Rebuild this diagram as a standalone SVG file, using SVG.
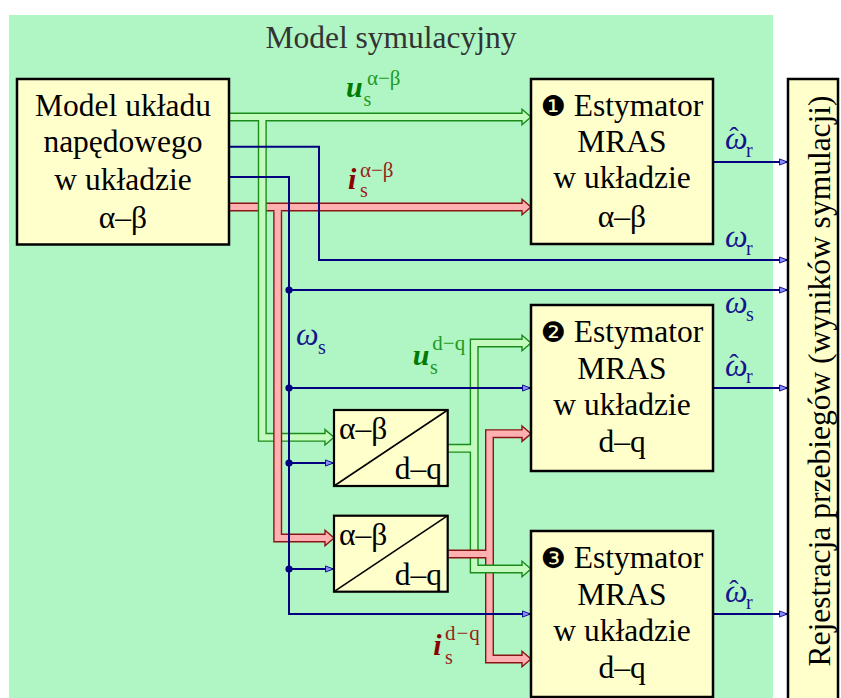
<svg xmlns="http://www.w3.org/2000/svg" width="841" height="698" viewBox="0 0 841 698">
<style>
text{font-family:"Liberation Serif","Times New Roman",serif;}
.big{font-size:31.5px;fill:#000;}
.ctr{text-anchor:middle;}
.num{font-family:"DejaVu Sans",sans-serif;font-size:28px;}
.box{fill:#ffffcc;stroke:#000;stroke-width:2.5;}
.gd{fill:none;stroke:#1a8c1a;stroke-width:9;stroke-linejoin:miter;}
.gl{fill:none;stroke:#c4fcbf;stroke-width:6.2;stroke-linejoin:miter;}
.ga{fill:#c4fcbf;stroke:#1a8c1a;stroke-width:1.4;stroke-linejoin:miter;}
.rd{fill:none;stroke:#8c1414;stroke-width:9;stroke-linejoin:miter;}
.rl{fill:none;stroke:#ffb0b0;stroke-width:6.2;stroke-linejoin:miter;}
.ra{fill:#ffb0b0;stroke:#8c1414;stroke-width:1.4;stroke-linejoin:miter;}
.bla{fill:none;stroke:#000080;stroke-width:2;marker-end:url(#ba);}
.dot{fill:#000080;}
.om{font-style:italic;font-size:32px;fill:#14148c;}
.sub{font-size:20px;fill:#14148c;}
.hat{font-size:28px;fill:#14148c;}
.ub{font-style:italic;font-weight:bold;font-size:30px;fill:#007a00;}
.gs{font-size:20px;fill:#1f9a1f;}
.ib{font-style:italic;font-weight:bold;font-size:30px;fill:#8b0000;}
.rs{font-size:20px;fill:#9b1c1c;}
</style>
<defs>
<marker id="ba" viewBox="0 0 10 8" refX="10" refY="4" markerWidth="9" markerHeight="7.5" markerUnits="userSpaceOnUse" orient="auto">
<path d="M0.6,0.6 L9.4,4 L0.6,7.4 Z" fill="#8c8cff" stroke="#000080" stroke-width="1"/>
</marker>
</defs>
<rect x="0" y="0" width="841" height="698" fill="#fff"/>
<rect id="bg" x="9" y="15" width="764" height="683" fill="#b0f5c4"/>
<text x="391" y="48" class="ctr" style="font-size:31.5px;fill:#333;">Model symulacyjny</text>

<g id="connectors">
<path class="rd" d="M229,207 H523"/>
<polygon class="ra" points="522,199.3 531,207 522,214.7"/>
<path class="rl" d="M229,207 H523.5"/>
<path class="gd" d="M229,117 H523 M262.3,117 V437.3 H326"/>
<polygon class="ga" points="522,109.3 531,117 522,124.7"/>
<polygon class="ga" points="325,429.6 334,437.3 325,445"/>
<path class="gl" d="M229,117 H523.5 M262.3,117 V437.3 H326.5"/>
<path class="rd" d="M277.7,211.5 V538 H326"/>
<polygon class="ra" points="325,530.3 334,538 325,545.7"/>
<path class="rl" d="M277.7,207 V538 H326.5"/>
<path class="rd" d="M523,433.7 H489.5 V659 H523"/>
<polygon class="ra" points="522,426 531,433.7 522,441.4"/>
<polygon class="ra" points="522,651.3 531,659 522,666.7"/>
<path class="rl" d="M523.5,433.7 H489.5 V659 H523.5"/>
<path class="gd" d="M523,343 H474.2 V569 H523 M447.7,448.3 H474.2"/>
<polygon class="ga" points="522,335.3 531,343 522,350.7"/>
<polygon class="ga" points="522,561.3 531,569 522,576.7"/>
<path class="gl" d="M523.5,343 H474.2 V569 H523.5 M447.7,448.3 H474.2"/>
<path class="rd" d="M447.7,554 H486"/>
<path class="rl" d="M447.7,554 H490.5"/>
<path class="bla" d="M229,146.7 H319 V260 H788"/>
<path class="bla" d="M229,177 H289 V614 H531"/>
<path class="bla" d="M289,290 H788"/>
<path class="bla" d="M289,388 H531"/>
<path class="bla" d="M289,463 H334"/>
<path class="bla" d="M289,569 H334"/>
<path class="bla" d="M713,162 H788"/>
<path class="bla" d="M713,388 H788"/>
<path class="bla" d="M713,614 H788"/>
<circle class="dot" cx="289" cy="290" r="3.6"/>
<circle class="dot" cx="289" cy="388" r="3.6"/>
<circle class="dot" cx="289" cy="463" r="3.6"/>
<circle class="dot" cx="289" cy="569" r="3.6"/>
</g>

<g id="labels">
<text x="346" y="97" class="ub">u</text>
<text x="363.5" y="105.5" class="gs">s</text>
<text x="367" y="85" class="gs" style="font-size:21px;">α−β</text>
<text x="348" y="188.5" class="ib">i</text>
<text x="360" y="197" class="rs">s</text>
<text x="360" y="177" class="rs" style="font-size:21px;">α−β</text>
<text x="412.7" y="365" class="ub">u</text>
<text x="430" y="373.5" class="gs">s</text>
<text x="432.3" y="350" class="gs" style="font-size:21px;">d−q</text>
<text x="433.3" y="655" class="ib">i</text>
<text x="445" y="663.5" class="rs">s</text>
<text x="445" y="640" class="rs" style="font-size:21px;letter-spacing:1px;">d−q</text>
<text x="296" y="345" class="om">ω</text>
<text x="318" y="353.5" class="sub">s</text>
<text x="725" y="149" class="om">ω</text>
<text x="734" y="146" class="hat ctr">ˆ</text>
<text x="746" y="157" class="sub">r</text>
<text x="725" y="247" class="om">ω</text>
<text x="746" y="255" class="sub">r</text>
<text x="725" y="313" class="om">ω</text>
<text x="746" y="321" class="sub">s</text>
<text x="725" y="376" class="om">ω</text>
<text x="734" y="373" class="hat ctr">ˆ</text>
<text x="746" y="383" class="sub">r</text>
<text x="725" y="602" class="om">ω</text>
<text x="734" y="599" class="hat ctr">ˆ</text>
<text x="746" y="609" class="sub">r</text>
</g>

<g id="model">
<rect class="box" x="17" y="79" width="212" height="165.5"/>
<text class="big ctr" x="123" y="116">Model układu</text>
<text class="big ctr" x="123" y="152">napędowego</text>
<text class="big ctr" x="123" y="190">w układzie</text>
<text class="big ctr" x="123" y="228">α–β</text>
</g>

<g id="est1">
<rect class="box" x="531" y="79" width="182" height="165"/>
<text class="big ctr" x="622" y="116"><tspan class="num">❶</tspan> Estymator</text>
<text class="big ctr" x="622" y="152">MRAS</text>
<text class="big ctr" x="622" y="188">w układzie</text>
<text class="big ctr" x="622" y="226.5">α–β</text>
</g>

<g id="est2">
<rect class="box" x="531" y="305" width="182" height="166"/>
<text class="big ctr" x="622" y="341.7"><tspan class="num">❷</tspan> Estymator</text>
<text class="big ctr" x="622" y="379">MRAS</text>
<text class="big ctr" x="622" y="415">w układzie</text>
<text class="big ctr" x="622" y="452">d–q</text>
</g>

<g id="est3">
<rect class="box" x="531" y="531" width="182" height="166"/>
<text class="big ctr" x="622" y="568.3"><tspan class="num">❸</tspan> Estymator</text>
<text class="big ctr" x="622" y="605">MRAS</text>
<text class="big ctr" x="622" y="641">w układzie</text>
<text class="big ctr" x="622" y="678">d–q</text>
</g>

<g id="transform1">
<rect class="box" x="334" y="410" width="113.7" height="76" style="stroke-width:2.2"/>
<line x1="334" y1="486" x2="447.7" y2="410" stroke="#000" stroke-width="1.6"/>
<text class="big" x="339" y="439">α–β</text>
<text class="big" x="442" y="479" text-anchor="end">d–q</text>
</g>

<g id="transform2">
<rect class="box" x="334" y="515.7" width="113.7" height="76" style="stroke-width:2.2"/>
<line x1="334" y1="591.7" x2="447.7" y2="515.7" stroke="#000" stroke-width="1.6"/>
<text class="big" x="339" y="545">α–β</text>
<text class="big" x="442" y="585" text-anchor="end">d–q</text>
</g>

<g id="registration">
<rect class="box" x="788" y="79" width="50" height="630"/>
<text class="big ctr" transform="translate(830,381) rotate(-90)">Rejestracja przebiegów (wyników symulacji)</text>
</g>
</svg>
